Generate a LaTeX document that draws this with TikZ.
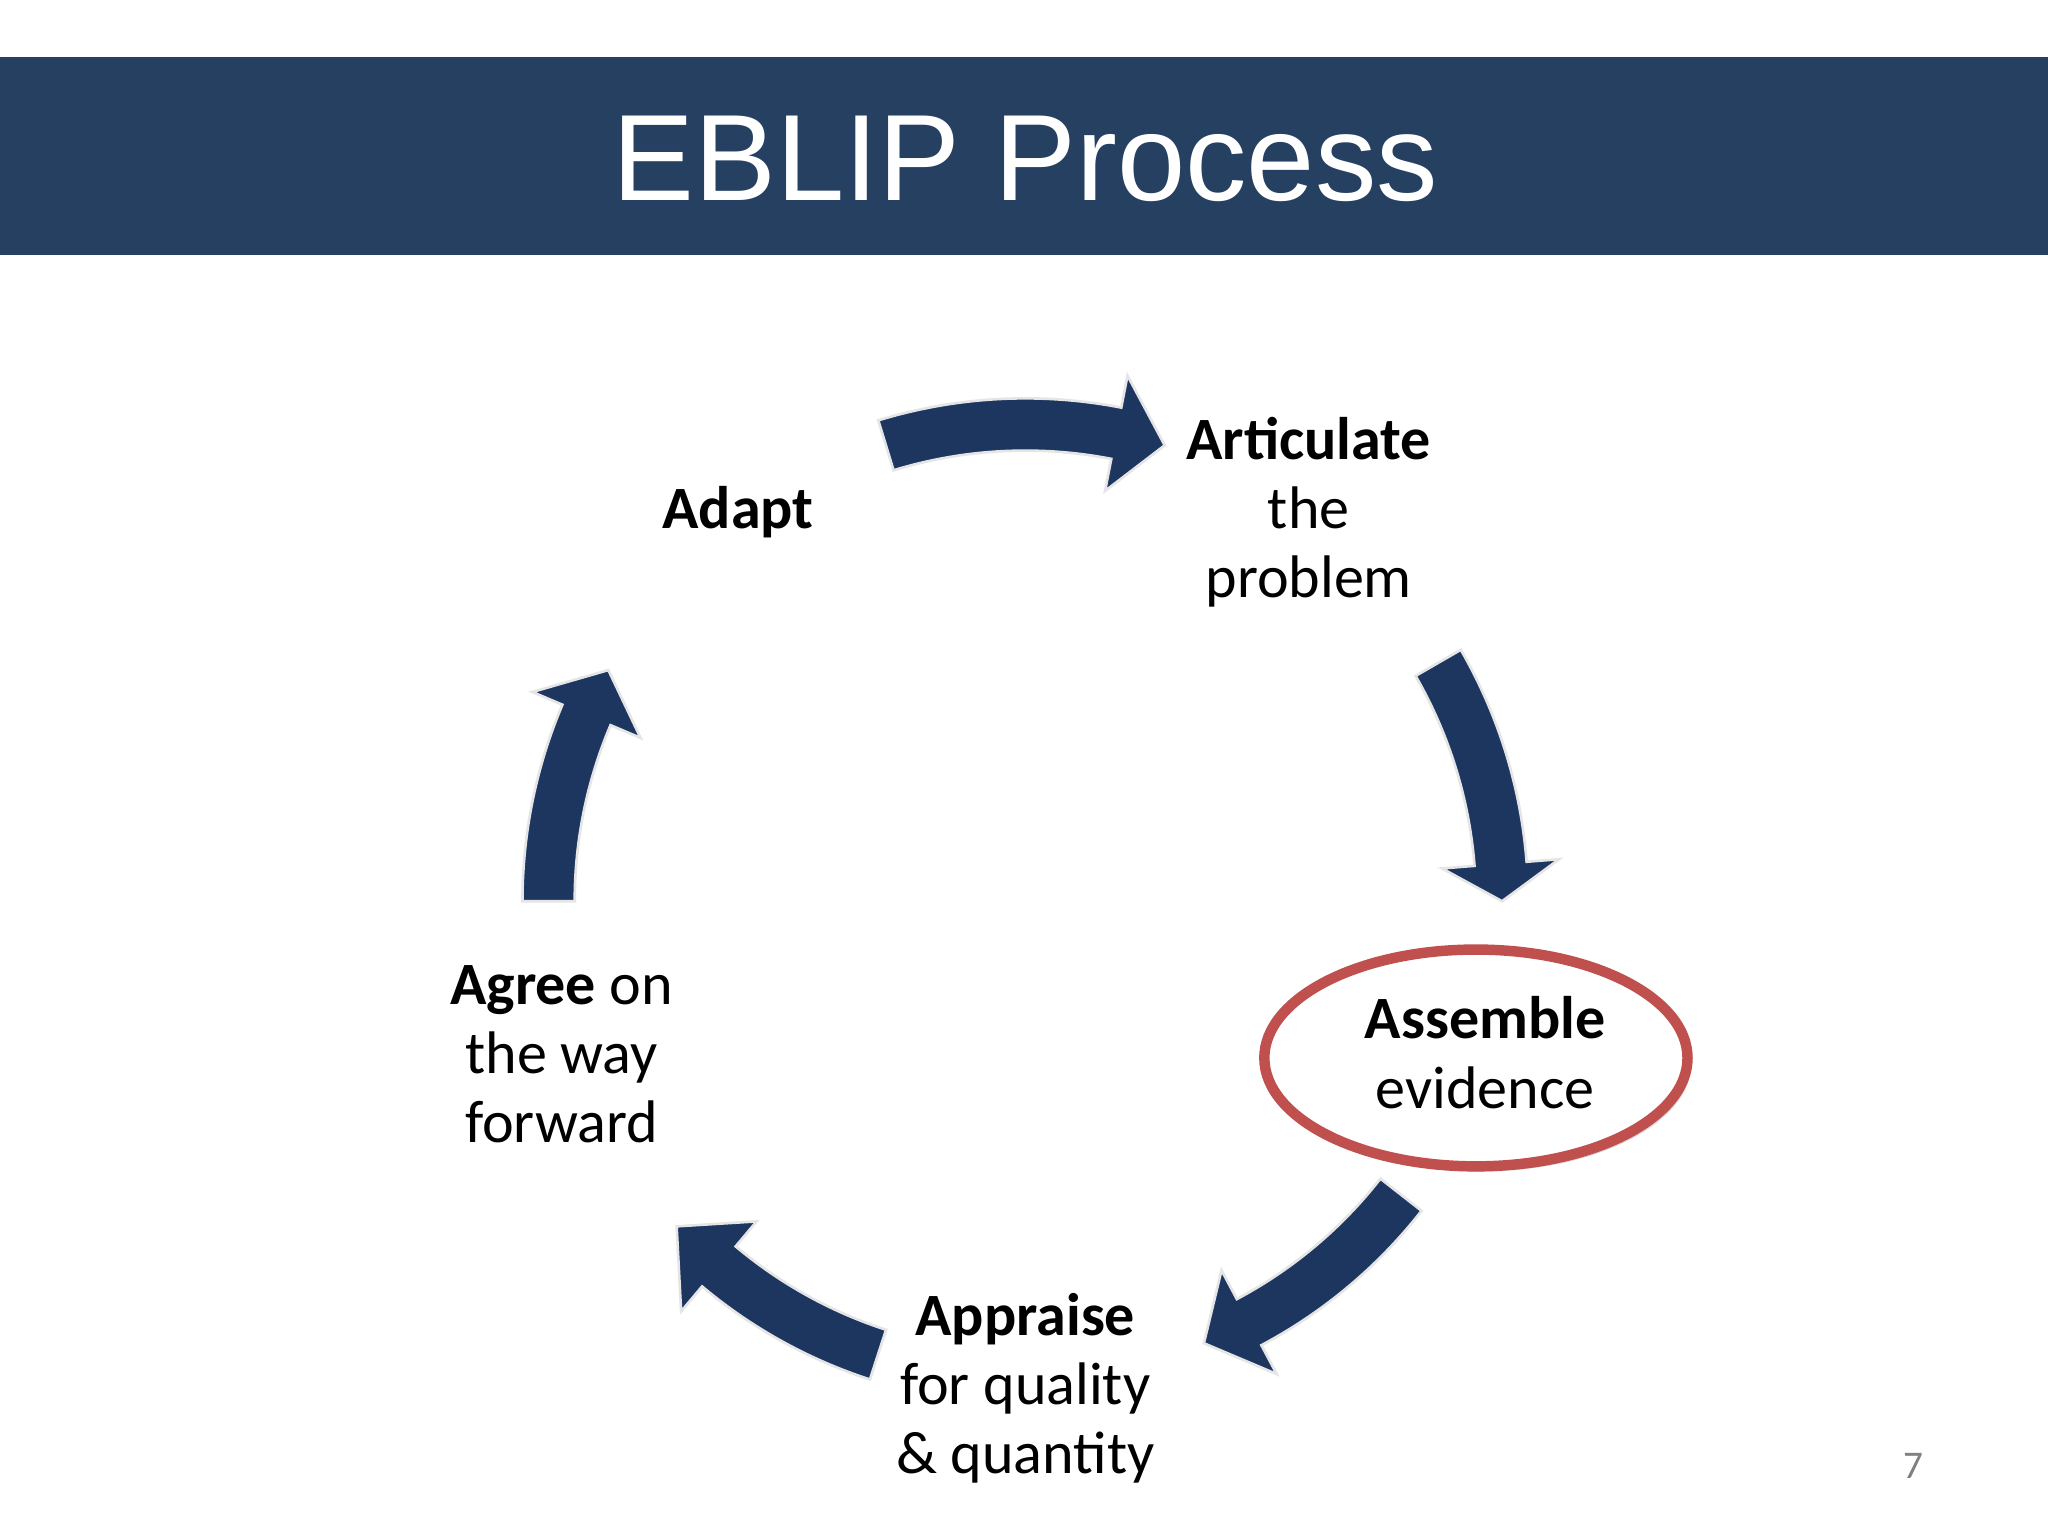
\documentclass[tikz,border=0pt]{standalone}
\usepackage{fontspec}
\setmainfont{Carlito}
\newfontfamily\titlefont{Liberation Sans}
\usetikzlibrary{calc,shadows}
\definecolor{barc}{RGB}{38,64,97}
\definecolor{arrc}{RGB}{29,54,96}
\definecolor{ringc}{RGB}{192,80,77}
\tikzset{lbl/.style={align=center,font=\fontsize{46}{53}\selectfont},
 cyc/.style={fill=arrc,draw=white!90!black,line width=2pt,line join=miter}}
\newcommand{\cycarrow}[3]{%
 \filldraw[cyc] ($(C)+(#1:385)$) arc[start angle=#1,end angle=#2,radius=385] -- ($(C)+(#2:410)$) -- ($(C)+(#3:365)$) -- ($(C)+(#2:320)$) -- ($(C)+(#2:345)$) arc[start angle=#2,end angle=#1,radius=345] -- cycle;}
\begin{document}
\begin{tikzpicture}[x=1pt,y=1pt]
\useasboundingbox (0,0) rectangle (1568,1176);
\fill[white] (0,0) rectangle (1568,1176);
\fill[barc] (0,981) rectangle (1568,1132);
\node[text=white,font=\titlefont\fontsize{94}{94}\selectfont] (title) at (785,1054) {EBLIP Process};
\coordinate (C) at (785,486);
\cycarrow{107}{79}{73}
\cycarrow{30}{4.5}{0}
\cycarrow{-38}{-62}{-68}
\cycarrow{-108}{-130}{-137}
\cycarrow{180}{157}{151}
\draw[ringc,fill=white,line width=8pt,drop shadow={opacity=0.3,shadow xshift=3pt,shadow yshift=-4pt}] (1130,366) ellipse[x radius=162,y radius=83];
\node[lbl] (adapt) at (565,784) {\textbf{Adapt}};
\node[lbl] (artic) at (1002,784) {\textbf{Articulate}\\the\\problem};
\node[lbl] (assem) at (1137,370) {\textbf{Assemble}\\evidence};
\node[lbl] (appr) at (785,113) {\textbf{Appraise}\\for quality\\\& quantity};
\node[lbl] (agree) at (430,369) {\textbf{Agree} on\\the way\\forward};
\node[text=gray,font=\fontsize{30}{30}\selectfont] (pg) at (1465,54) {7};
\end{tikzpicture}
\end{document}
